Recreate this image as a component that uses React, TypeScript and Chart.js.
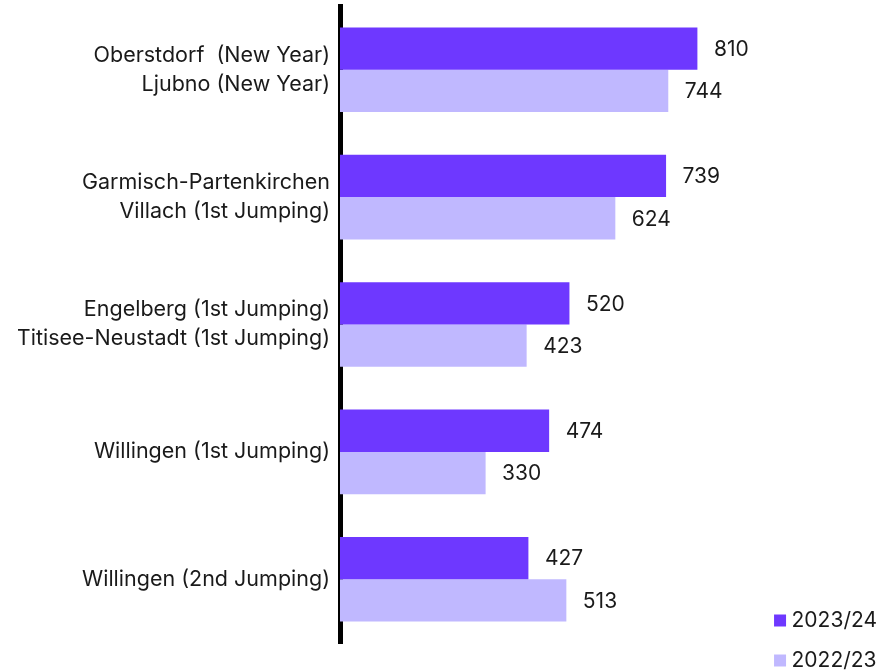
import React, { useEffect, useRef } from "react";
import { Chart, registerables } from "chart.js";

Chart.register(...registerables);

const categories: (string | string[])[] = [
  ["Oberstdorf  (New Year)", "Ljubno (New Year)"],
  ["Garmisch-Partenkirchen", "Villach (1st Jumping)"],
  ["Engelberg (1st Jumping)", "Titisee-Neustadt (1st Jumping)"],
  "Willingen (1st Jumping)",
  "Willingen (2nd Jumping)",
];
const seriesNames = ["2023/24", "2022/23"];
const values2324 = [810, 739, 520, 474, 427];
const values2223 = [744, 624, 423, 330, 513];

const FONT = "Inter, 'Noto Sans', sans-serif";
const FS = 21;

const valueLabels = {
  id: "valueLabels",
  afterDatasetsDraw(chart: any) {
    const ctx = chart.ctx;
    ctx.save();
    ctx.font = `${FS}px ${FONT}`;
    ctx.fillStyle = "#1a1a1a";
    ctx.textAlign = "left";
    ctx.textBaseline = "middle";
    chart.data.datasets.forEach((ds: any, di: number) => {
      const meta = chart.getDatasetMeta(di);
      meta.data.forEach((el: any, i: number) => {
        ctx.fillText(String(ds.data[i]), el.x + 16.5, el.y + 1);
      });
    });
    ctx.restore();
  },
};

export default function App() {
  const ref = useRef<HTMLCanvasElement>(null);
  useEffect(() => {
    if (!ref.current) return;
    const chart = new Chart(ref.current, {
      type: "bar",
      data: {
        labels: categories,
        datasets: [
          {
            label: seriesNames[0],
            data: values2324,
            backgroundColor: "#6E38FF",
            categoryPercentage: 0.664,
            barPercentage: 1,
          },
          {
            label: seriesNames[1],
            data: values2223,
            backgroundColor: "#C0B8FF",
            categoryPercentage: 0.664,
            barPercentage: 1,
          },
        ],
      },
      options: {
        indexAxis: "y",
        animation: false,
        responsive: true,
        maintainAspectRatio: false,
        layout: { padding: { top: 6, left: 18, right: 7, bottom: 0 } },
        scales: {
          x: {
            min: 0,
            max: 952,
            display: true,
            grid: { display: false, drawTicks: false },
            border: { display: false },
            ticks: { display: false },
            title: { display: true, text: "", font: { size: 10, lineHeight: 1 }, padding: { top: 18.5, bottom: 18.5 } },
          },
          y: {
            grid: { display: false, drawTicks: false },
            border: { display: true, color: "#000", width: 5 },
            ticks: {
              color: "#1a1a1a",
              padding: 10,
              font: { family: FONT, size: 21.5, lineHeight: 1.35 },
            },
            afterFit(scale: any) {
              scale.width = 322;
              scale.paddingTop = 0;
              scale.paddingBottom = 0;
            },
            z: 1,
          },
        },
        plugins: {
          legend: {
            position: "right",
            align: "end",
            labels: {
              usePointStyle: true,
              pointStyle: "rect",
              boxWidth: 2,
              boxHeight: 12,
              padding: 19,
              color: "#1a1a1a",
              font: { family: FONT, size: FS },
            },
          },
          tooltip: { enabled: false },
        },
      },
      plugins: [valueLabels],
    });
    return () => chart.destroy();
  }, []);
  return (
    <div style={{ position: "absolute", left: 0, top: 0, width: 894, height: 671, overflow: "hidden" }}>
      <div style={{ position: "relative", width: 894, height: 690 }}>
        <canvas ref={ref} />
      </div>
    </div>
  );
}
